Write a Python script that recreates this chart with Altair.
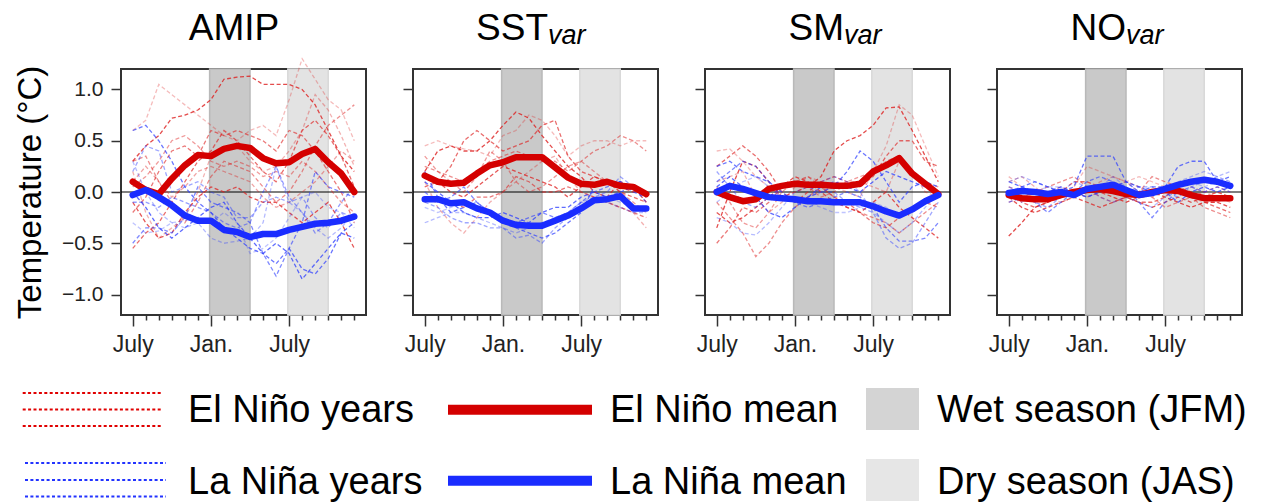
import altair as alt
import pandas as pd

# ---------------- data ----------------
months = list(range(18))
tick_labels = {0: "July", 6: "Jan.", 12: "July"}
y_ticks = [-1.0, -0.5, 0.0, 0.5, 1.0]
panels = ["AMIP", "SST", "SM", "NO"]
panel_sub = {"AMIP": "", "SST": "var", "SM": "var", "NO": "var"}
season_names = ["Wet season (JFM)", "Dry season (JAS)"]
season_start = [5.9, 11.9]
season_end = [9.0, 15.0]

amip_elnino_mean = [0.10, 0.02, -0.02, 0.13, 0.26, 0.36, 0.35, 0.42, 0.45, 0.43, 0.33, 0.28, 0.29, 0.37, 0.42, 0.29, 0.18, 0.00]
amip_lanina_mean = [-0.03, 0.02, -0.05, -0.13, -0.23, -0.28, -0.28, -0.37, -0.39, -0.44, -0.41, -0.41, -0.37, -0.34, -0.31, -0.30, -0.28, -0.24]
sst_elnino_mean = [0.16, 0.10, 0.08, 0.09, 0.18, 0.26, 0.29, 0.34, 0.34, 0.34, 0.24, 0.14, 0.08, 0.07, 0.10, 0.06, 0.05, -0.02]
sst_lanina_mean = [-0.07, -0.07, -0.11, -0.10, -0.16, -0.20, -0.28, -0.32, -0.33, -0.33, -0.28, -0.23, -0.16, -0.08, -0.07, -0.04, -0.16, -0.16]
sm_elnino_mean = [0.00, -0.05, -0.09, -0.07, 0.03, 0.06, 0.08, 0.07, 0.07, 0.06, 0.06, 0.08, 0.20, 0.26, 0.33, 0.18, 0.08, -0.02]
sm_lanina_mean = [0.00, 0.06, 0.03, -0.01, -0.05, -0.06, -0.07, -0.09, -0.09, -0.10, -0.10, -0.10, -0.14, -0.19, -0.23, -0.17, -0.09, -0.03]
no_elnino_mean = [-0.03, -0.06, -0.07, -0.07, -0.03, 0.00, 0.02, 0.03, 0.01, -0.02, -0.03, 0.00, 0.02, 0.01, -0.03, -0.06, -0.06, -0.06]
no_lanina_mean = [-0.01, 0.01, 0.00, -0.02, 0.00, -0.03, 0.03, 0.05, 0.07, 0.02, -0.03, -0.01, 0.03, 0.07, 0.10, 0.12, 0.10, 0.06]

amip_elnino_years = [
    [0.30, 0.45, 0.55, 0.72, 0.75, 0.80, 0.90, 1.10, 1.12, 1.13, 1.05, 1.05, 1.05, 1.00, 0.85, 0.60, 0.35, 0.20],
    [0.60, 0.70, 1.05, 0.95, 0.85, 0.75, 0.65, 0.55, 0.50, 0.60, 0.65, 0.55, 0.90, 1.30, 1.10, 0.90, 0.80, 0.50],
    [-0.55, -0.40, -0.30, -0.10, 0.10, 0.30, 0.40, 0.60, 0.50, 0.35, 0.20, 0.10, 0.30, 0.60, 0.70, 0.55, 0.35, 0.05],
    [0.30, 0.35, 0.10, -0.10, -0.30, -0.10, 0.15, 0.30, 0.25, 0.20, 0.05, -0.10, 0.00, 0.20, 0.45, 0.65, 0.75, 0.85],
    [0.20, -0.20, -0.45, -0.35, -0.25, 0.00, 0.35, 0.40, 0.45, 0.30, 0.20, 0.25, 0.40, 0.60, 0.95, 0.80, 0.55, 0.25],
    [-0.10, -0.30, -0.45, -0.40, -0.20, -0.05, 0.05, 0.00, 0.05, -0.05, -0.10, -0.10, -0.20, -0.30, -0.20, -0.10, -0.30, -0.55],
    [0.05, 0.15, 0.30, 0.50, 0.55, 0.45, 0.30, 0.25, 0.30, 0.25, 0.15, 0.20, 0.15, 0.30, 0.20, 0.05, -0.10, -0.20],
    [-0.20, -0.05, 0.20, 0.40, 0.45, 0.35, 0.60, 0.55, 0.60, 0.55, 0.50, 0.40, 0.60, 0.55, 0.40, 0.20, 0.00, -0.30],
    [0.10, 0.25, 0.10, -0.05, 0.05, 0.20, 0.25, 0.20, 0.15, 0.10, -0.05, -0.15, -0.10, 0.00, 0.10, 0.25, 0.40, 0.30],
]
amip_lanina_years = [
    [0.60, 0.65, 0.50, 0.30, 0.05, -0.10, -0.20, -0.35, -0.45, -0.55, -0.60, -0.70, -0.55, -0.75, -0.80, -0.65, -0.40, -0.30],
    [0.30, 0.00, -0.20, -0.30, -0.35, -0.30, -0.45, -0.50, -0.48, -0.45, -0.30, 0.25, -0.10, -0.20, -0.35, -0.45, -0.35, -0.20],
    [-0.50, -0.35, -0.35, -0.40, -0.25, 0.05, -0.10, -0.15, -0.20, -0.30, -0.60, -0.82, -0.55, -0.30, 0.20, 0.05, 0.00, -0.05],
    [0.20, 0.45, 0.40, 0.00, 0.05, 0.10, 0.00, -0.05, -0.25, -0.25, -0.10, -0.05, -0.10, -0.05, -0.25, -0.35, -0.20, -0.25],
    [-0.30, -0.40, -0.38, -0.30, -0.28, -0.25, -0.30, -0.20, -0.30, -0.60, -0.55, -0.45, -0.25, -0.05, 0.00, -0.15, -0.20, -0.35],
    [0.00, -0.15, -0.35, -0.45, -0.35, -0.25, -0.15, -0.10, -0.30, -0.45, -0.60, -0.50, -0.60, -0.85, -0.70, -0.55, -0.40, -0.45],
    [-0.10, -0.10, -0.15, -0.05, -0.10, -0.15, -0.20, -0.30, -0.35, -0.30, 0.00, 0.25, -0.05, -0.20, -0.40, -0.30, -0.10, 0.05],
]
sst_elnino_years = [
    [0.20, 0.40, 0.45, 0.40, 0.40, 0.50, 0.65, 0.78, 0.72, 0.55, 0.40, 0.25, 0.15, 0.00, -0.05, 0.10, 0.05, -0.10],
    [0.45, 0.50, 0.45, 0.42, 0.40, 0.35, 0.55, 0.60, 0.75, 0.70, 0.55, 0.35, 0.45, 0.50, 0.50, 0.45, 0.50, 0.50],
    [0.05, 0.10, 0.25, 0.50, 0.60, 0.50, 0.40, 0.45, 0.50, 0.65, 0.70, 0.35, 0.20, 0.15, 0.10, 0.00, -0.05, -0.10],
    [0.25, 0.20, 0.15, 0.10, 0.20, 0.30, 0.35, 0.40, 0.35, 0.30, 0.30, 0.20, 0.30, 0.40, 0.45, 0.55, 0.50, 0.40],
    [0.10, -0.15, -0.30, -0.40, -0.25, -0.10, 0.00, 0.10, 0.20, 0.30, 0.35, 0.15, 0.00, -0.05, -0.10, -0.15, -0.20, -0.35],
    [0.15, 0.10, 0.00, -0.05, 0.05, 0.15, 0.25, 0.20, 0.15, 0.10, 0.05, -0.05, 0.05, 0.15, 0.10, 0.05, 0.00, 0.00],
    [0.35, 0.20, 0.10, 0.00, 0.15, 0.40, 0.30, 0.10, 0.00, 0.05, 0.15, 0.25, 0.30, 0.20, 0.10, 0.00, -0.10, -0.20],
    [-0.10, -0.05, -0.10, -0.15, -0.05, -0.05, 0.00, 0.15, 0.10, 0.00, 0.00, 0.05, 0.00, -0.05, -0.10, -0.15, -0.20, -0.25],
]
sst_lanina_years = [
    [0.20, -0.05, -0.20, -0.15, -0.10, -0.20, -0.30, -0.35, -0.40, -0.45, -0.40, -0.30, -0.20, 0.05, 0.10, 0.10, 0.05, 0.00],
    [-0.30, -0.25, -0.20, -0.20, -0.25, -0.30, -0.35, -0.40, -0.35, -0.30, -0.30, -0.25, -0.10, -0.05, -0.10, -0.15, -0.20, -0.20],
    [0.00, -0.10, -0.05, 0.05, -0.10, -0.20, -0.30, -0.30, -0.25, -0.20, -0.25, -0.20, -0.10, 0.00, 0.05, 0.10, 0.00, -0.05],
    [-0.10, -0.15, -0.25, -0.30, -0.30, -0.35, -0.35, -0.45, -0.42, -0.50, -0.35, -0.25, -0.15, -0.05, 0.00, 0.15, 0.05, -0.10],
    [-0.15, -0.20, -0.15, -0.10, -0.15, -0.20, -0.25, -0.30, -0.35, -0.30, -0.25, -0.20, -0.10, -0.10, -0.05, -0.10, -0.15, -0.20],
    [0.10, 0.00, -0.10, -0.20, -0.25, -0.25, -0.20, -0.25, -0.30, -0.20, -0.15, -0.15, -0.05, 0.00, -0.05, 0.00, 0.05, 0.00],
]
sm_elnino_years = [
    [-0.35, 0.00, 0.30, 0.25, 0.10, -0.05, 0.00, 0.05, 0.15, 0.40, 0.50, 0.55, 0.65, 0.82, 0.83, 0.60, 0.35, 0.10],
    [0.40, 0.42, 0.30, 0.15, 0.05, -0.05, -0.10, -0.05, 0.00, 0.05, 0.00, -0.05, 0.20, 0.45, 0.85, 0.75, 0.45, 0.15],
    [0.25, 0.35, 0.45, 0.35, 0.20, 0.00, -0.10, 0.00, 0.10, 0.15, 0.10, 0.05, 0.15, 0.35, 0.50, 0.50, 0.30, 0.25],
    [-0.10, -0.25, -0.40, -0.63, -0.50, -0.30, -0.15, -0.05, 0.05, -0.05, -0.15, -0.20, -0.25, -0.30, -0.40, -0.30, -0.20, -0.10],
    [0.10, 0.15, 0.20, -0.05, -0.20, -0.10, 0.05, 0.15, 0.10, 0.05, 0.10, 0.10, 0.05, 0.00, 0.30, 0.20, 0.00, -0.05],
    [-0.20, -0.30, -0.25, -0.15, -0.05, 0.05, 0.15, 0.10, 0.00, -0.10, -0.15, -0.20, -0.10, 0.00, -0.15, -0.25, -0.35, -0.45],
    [0.05, -0.10, -0.30, -0.35, -0.20, 0.00, 0.10, 0.05, -0.05, 0.00, 0.10, 0.15, 0.20, 0.30, 0.35, 0.20, 0.10, 0.05],
    [-0.50, -0.35, -0.15, -0.20, -0.10, 0.05, 0.10, 0.15, 0.05, -0.05, -0.10, -0.20, -0.30, -0.35, -0.25, -0.15, -0.10, -0.15],
]
sm_lanina_years = [
    [0.25, 0.30, 0.20, 0.15, 0.10, 0.00, -0.10, -0.05, 0.00, 0.05, 0.20, 0.40, 0.30, 0.10, -0.10, 0.05, 0.10, 0.05],
    [-0.25, -0.30, -0.40, -0.42, -0.30, -0.15, 0.00, 0.05, 0.10, 0.15, 0.10, 0.00, -0.20, -0.30, -0.40, -0.30, -0.15, 0.00],
    [0.10, 0.20, 0.30, 0.25, 0.10, -0.05, -0.10, -0.15, -0.10, -0.05, 0.00, -0.05, -0.15, -0.35, -0.48, -0.48, -0.45, -0.30],
    [0.20, 0.05, -0.10, -0.15, -0.05, 0.05, 0.10, 0.05, 0.00, 0.00, -0.10, -0.15, -0.20, -0.45, -0.55, -0.50, -0.30, -0.10],
    [-0.10, 0.00, 0.10, 0.15, 0.05, -0.05, -0.10, -0.10, -0.15, -0.20, -0.20, -0.15, -0.10, -0.15, -0.25, -0.20, -0.10, 0.00],
    [0.05, 0.15, 0.05, -0.05, -0.20, -0.25, -0.15, -0.05, 0.05, 0.10, 0.05, 0.00, 0.10, 0.20, 0.15, 0.10, 0.05, 0.00],
]
no_elnino_years = [
    [-0.43, -0.30, -0.15, -0.10, -0.05, 0.00, 0.05, 0.00, -0.05, -0.10, -0.05, 0.00, -0.05, -0.10, -0.15, -0.10, -0.10, -0.15],
    [0.15, 0.05, -0.05, -0.10, -0.05, 0.05, 0.25, 0.20, 0.15, 0.10, 0.15, 0.10, 0.05, 0.00, -0.05, -0.10, -0.10, -0.05],
    [0.00, -0.10, -0.15, -0.10, 0.00, 0.10, 0.10, 0.05, 0.00, -0.05, -0.10, -0.10, -0.05, 0.05, 0.00, -0.10, -0.15, -0.20],
    [-0.10, -0.05, 0.00, 0.05, 0.10, 0.15, 0.05, -0.05, -0.10, -0.05, 0.00, 0.15, 0.10, 0.05, -0.05, -0.15, -0.20, -0.25],
    [0.10, 0.15, 0.05, -0.05, -0.10, -0.05, 0.00, 0.10, 0.15, 0.10, 0.00, -0.05, 0.00, 0.10, 0.05, 0.00, -0.05, -0.10],
    [-0.05, -0.15, -0.20, -0.15, -0.10, -0.05, -0.10, -0.15, -0.10, -0.05, -0.10, -0.15, -0.10, -0.05, -0.10, -0.05, 0.00, -0.05],
    [0.05, 0.00, -0.05, 0.00, 0.05, 0.00, -0.05, 0.00, 0.05, 0.10, 0.05, -0.05, -0.15, -0.10, -0.05, 0.00, 0.05, 0.00],
]
no_lanina_years = [
    [0.00, 0.05, 0.10, 0.05, 0.00, 0.05, 0.35, 0.35, 0.35, 0.10, 0.00, 0.05, 0.05, 0.25, 0.30, 0.30, 0.10, 0.15],
    [0.10, 0.15, 0.10, 0.05, 0.00, 0.10, 0.05, -0.05, -0.10, -0.05, -0.10, -0.15, -0.05, 0.10, 0.15, 0.20, 0.15, 0.20],
    [-0.10, -0.05, -0.10, -0.20, -0.10, 0.00, 0.10, 0.15, 0.10, 0.05, -0.10, -0.25, -0.10, 0.00, 0.05, 0.00, 0.05, 0.00],
    [0.05, 0.00, -0.10, -0.15, -0.05, 0.00, -0.05, 0.00, 0.05, 0.00, 0.05, 0.05, 0.00, -0.05, 0.05, 0.10, 0.15, 0.10],
    [-0.05, -0.10, 0.00, 0.05, 0.05, -0.05, 0.00, 0.05, 0.15, 0.05, -0.05, 0.00, 0.05, 0.10, 0.10, 0.05, 0.10, 0.05],
    [0.10, 0.05, 0.00, 0.00, 0.05, 0.00, -0.05, 0.00, 0.05, 0.10, 0.05, 0.00, 0.00, -0.10, 0.00, 0.05, 0.00, 0.05],
]
red_year_opacity = [0.8, 0.3, 0.65, 0.5, 0.35, 0.75, 0.45, 0.6, 0.4]
blue_year_opacity = [0.7, 0.35, 0.6, 0.45, 0.3, 0.75, 0.5]

legend_labels = ["El Niño years", "El Niño mean", "Wet season (JFM)",
                 "La Niña years", "La Niña mean", "Dry season (JAS)"]

# ---------------- styles ----------------
FONT = "Liberation Sans"
RED_YEAR, BLUE_YEAR = "#dd1f1f", "#2b3cff"
RED_MEAN, BLUE_MEAN = "#d40000", "#1a2cff"
SEASON_FILL = ["#c9c9c9", "#e3e3e3"]
SEASON_EDGE = ["#b9b9b9", "#d8d8d8"]
W, H = 245, 246
title_anchor = {"AMIP": 113, "SST": 135, "SM": 139, "NO": 129}

means = {
    "AMIP": (amip_elnino_mean, amip_lanina_mean),
    "SST": (sst_elnino_mean, sst_lanina_mean),
    "SM": (sm_elnino_mean, sm_lanina_mean),
    "NO": (no_elnino_mean, no_lanina_mean),
}
years = {
    "AMIP": (amip_elnino_years, amip_lanina_years),
    "SST": (sst_elnino_years, sst_lanina_years),
    "SM": (sm_elnino_years, sm_lanina_years),
    "NO": (no_elnino_years, no_lanina_years),
}

xscale = alt.Scale(domain=[-0.9, 17.9], nice=False, zero=False)
yscale = alt.Scale(domain=[-1.2, 1.2], nice=False, zero=False)

label_expr = " : ".join(f"datum.value == {k} ? '{v}'" for k, v in tick_labels.items()) + " : ''"
xaxis = alt.Axis(
    values=months, labelExpr=label_expr, title=None, domain=False, grid=False,
    tickSize={"condition": {"test": "datum.value % 6 === 0", "value": 11}, "value": 5},
    tickColor="#333333", tickWidth=1.5, labelFontSize=23, labelFont=FONT,
    labelColor="#222222", labelPadding=7, labelOverlap=False, labelFlush=False,
)


def yaxis(first):
    if first:
        return alt.Axis(values=y_ticks, format=".1f", title="Temperature (°C)",
                        titleFontSize=33, titleFont=FONT, titleFontWeight="normal",
                        titleColor="black", titlePadding=14, domain=False, grid=False,
                        tickSize=10, tickColor="#333333", tickWidth=1.5,
                        labelFontSize=21, labelFont=FONT, labelColor="#222222",
                        labelPadding=8)
    return alt.Axis(values=y_ticks, labels=False, title=None, domain=False, grid=False,
                    tickSize=10, tickColor="#333333", tickWidth=1.5)


season_df = pd.DataFrame({"season": season_names, "start": season_start, "end": season_end})


def panel(p, first):
    ya = yaxis(first)
    rows = []
    for kind, series_list, col, ops in [("El Niño", years[p][0], RED_YEAR, red_year_opacity),
                                        ("La Niña", years[p][1], BLUE_YEAR, blue_year_opacity)]:
        for i, s in enumerate(series_list):
            for m, v in zip(months, s):
                rows.append({"sid": f"{kind}{i}", "month": m, "value": v, "col": col,
                             "op": ops[i % len(ops)]})
    ind = pd.DataFrame(rows)
    red_mean = pd.DataFrame({"month": months, "value": means[p][0]})
    blue_mean = pd.DataFrame({"month": months, "value": means[p][1]})

    X = lambda f: alt.X(f, scale=xscale, axis=xaxis)
    Y = lambda f: alt.Y(f, scale=yscale, axis=ya)

    shade = alt.Chart(season_df).mark_rect(strokeWidth=1.5).encode(
        x=X("start:Q"), x2="end:Q",
        fill=alt.Fill("season:N", scale=alt.Scale(domain=season_names, range=SEASON_FILL), legend=None),
        stroke=alt.Stroke("season:N", scale=alt.Scale(domain=season_names, range=SEASON_EDGE), legend=None),
    )
    zero = alt.Chart(pd.DataFrame({"y": [0.0]})).mark_rule(color="black", strokeWidth=1.2).encode(y=Y("y:Q"))
    lines = alt.Chart(ind).mark_line(strokeDash=[4, 2.5], strokeWidth=1.3).encode(
        x=X("month:Q"), y=Y("value:Q"),
        color=alt.Color("col:N", scale=None),
        opacity=alt.Opacity("op:Q", scale=None),
        detail="sid:N", order="month:Q",
    )
    mred = alt.Chart(red_mean).mark_line(color=RED_MEAN, strokeWidth=6.5, strokeCap="round",
                                         strokeJoin="round").encode(x=X("month:Q"), y=Y("value:Q"))
    mblue = alt.Chart(blue_mean).mark_line(color=BLUE_MEAN, strokeWidth=6.5, strokeCap="round",
                                           strokeJoin="round").encode(x=X("month:Q"), y=Y("value:Q"))
    layers = [shade, zero, lines, mred, mblue]
    tdf = pd.DataFrame({"t": [p], "s": [panel_sub[p]]})
    if panel_sub[p]:
        layers.append(alt.Chart(tdf).mark_text(align="right", baseline="alphabetic", fontSize=37,
                                               font=FONT, color="black").encode(
            text="t:N", x=alt.value(title_anchor[p]), y=alt.value(-29)))
        layers.append(alt.Chart(tdf).mark_text(align="left", baseline="alphabetic", fontSize=27,
                                               font=FONT, fontStyle="italic", color="black").encode(
            text="s:N", x=alt.value(title_anchor[p]), y=alt.value(-25.5)))
    else:
        layers.append(alt.Chart(tdf).mark_text(align="center", baseline="alphabetic", fontSize=37,
                                               font=FONT, color="black").encode(
            text="t:N", x=alt.value(title_anchor[p]), y=alt.value(-29)))
    return alt.layer(*layers).properties(width=W, height=H)


row = alt.hconcat(*[panel(p, i == 0) for i, p in enumerate(panels)], spacing=47, bounds="flush")

# ---------------- custom legend ----------------
# positions are relative to the top-left corner of the first panel's frame
OX, OY = 121, 67
dot_rows = []
for ys, x0, x1, col in [([391, 407.5, 424], 22.7, 163, "#e00000"), ([461, 478, 494.5], 25, 166, "#2233ff")]:
    for yy in ys:
        dot_rows.append({"x": x0 - OX, "x2": x1 - OX, "y": yy - OY, "col": col})
dots = pd.DataFrame(dot_rows)
mean_leg = pd.DataFrame({"x": [448 - OX, 448 - OX], "x2": [592 - OX, 592 - OX],
                         "y": [407.7 - OY, 478.7 - OY], "col": [RED_MEAN, BLUE_MEAN]})
sq_leg = pd.DataFrame({"x": [866 - OX] * 2, "x2": [919 - OX] * 2,
                       "y": [386 - OY, 457 - OY], "y2": [428 - OY, 499 - OY],
                       "col": ["#d4d4d4", "#e6e6e6"]})
txt_leg = pd.DataFrame({"label": legend_labels,
                        "x": [188 - OX, 610 - OX, 937 - OX] * 2,
                        "y": [420 - OY] * 3 + [492 - OY] * 3})

PX = lambda f: alt.X(f, scale=None, axis=None)
PY = lambda f: alt.Y(f, scale=None, axis=None)
leg = alt.layer(
    alt.Chart(dots).mark_rule(strokeWidth=2.2, strokeDash=[3, 2.4]).encode(
        x=PX("x:Q"), x2="x2:Q", y=PY("y:Q"), color=alt.Color("col:N", scale=None)),
    alt.Chart(mean_leg).mark_rule(strokeWidth=10, strokeCap="butt").encode(
        x=PX("x:Q"), x2="x2:Q", y=PY("y:Q"), color=alt.Color("col:N", scale=None)),
    alt.Chart(sq_leg).mark_rect(opacity=1).encode(
        x=PX("x:Q"), x2="x2:Q", y=PY("y:Q"), y2="y2:Q", fill=alt.Fill("col:N", scale=None)),
    alt.Chart(txt_leg).mark_text(align="left", baseline="alphabetic", fontSize=38, font=FONT,
                                 color="black").encode(x=PX("x:Q"), y=PY("y:Q"), text="label:N"),
).properties(width=W * 4 + 47 * 3, height=502 - OY, view=alt.ViewBackground(stroke="transparent"))

chart = alt.vconcat(row, leg, spacing=0, bounds="flush").properties(
    padding={"left": 13, "top": 9, "right": 0, "bottom": 0}
).configure(font=FONT).configure_view(stroke="#333333", strokeWidth=2)

chart.save("out.html", embed_options={"renderer": "svg", "actions": False})
